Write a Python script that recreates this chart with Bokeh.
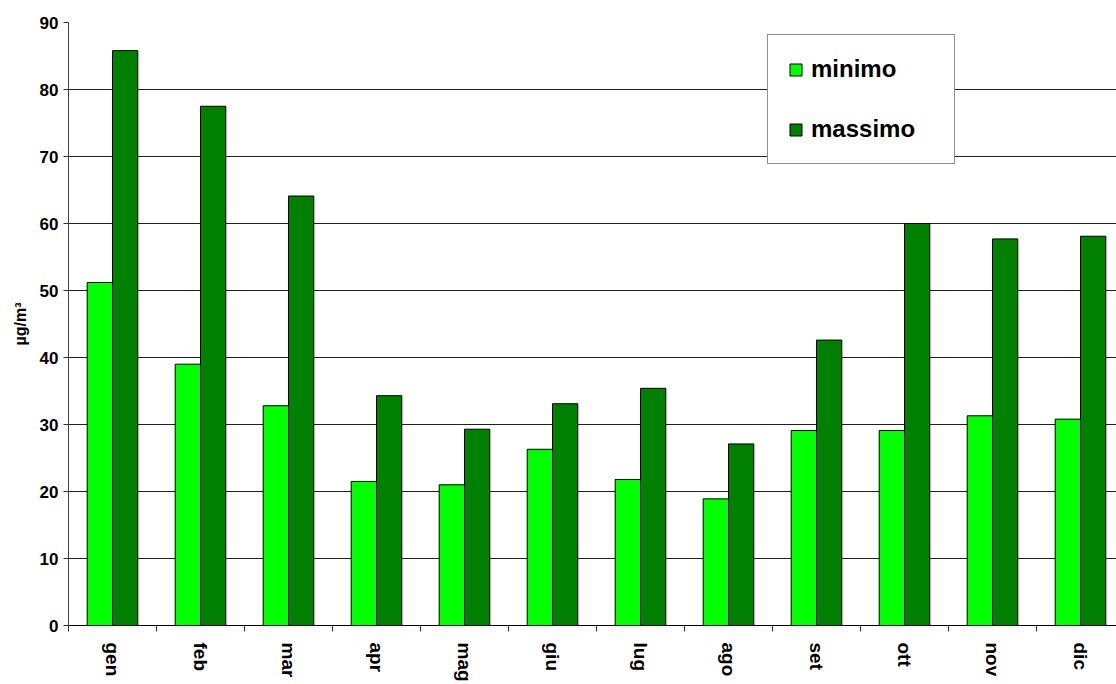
import numpy as np
from bokeh.plotting import figure
from bokeh.models import Range1d, FixedTicker
from bokeh.embed import file_html
from bokeh.resources import INLINE

months = ["gen", "feb", "mar", "apr", "mag", "giu", "lug", "ago", "set", "ott", "nov", "dic"]
minimo = [51.2, 39.0, 32.8, 21.5, 21.0, 26.3, 21.8, 18.9, 29.1, 29.1, 31.3, 30.8]
massimo = [85.8, 77.5, 64.1, 34.3, 29.3, 33.1, 35.4, 27.1, 42.6, 60.0, 57.7, 58.1]
y_ticks = [0, 10, 20, 30, 40, 50, 60, 70, 80, 90]
series_names = ["minimo", "massimo"]
series_colors = ["#00FF00", "#008000"]

FONT = "Liberation Sans"
n = len(months)
centers = list(range(1, n + 1))
bw = 0.2875

p = figure(width=1116, height=684, output_backend="svg", toolbar_location=None,
           x_range=Range1d(0.5, 0.5 + 1048 / 88), y_range=Range1d(0, 90),
           min_border_left=68, min_border_right=0, min_border_top=22, min_border_bottom=59)
p.outline_line_color = None
p.background_fill_color = "white"
p.border_fill_color = "white"

xc = np.array(centers, dtype=float)
p.vbar(x=xc - bw / 2, top=minimo, width=bw, fill_color=series_colors[0], line_color="black",
       line_width=1, legend_label=series_names[0])
p.vbar(x=xc + bw / 2, top=massimo, width=bw, fill_color=series_colors[1], line_color="black",
       line_width=1, legend_label=series_names[1])

p.xgrid.grid_line_color = None
p.ygrid.ticker = FixedTicker(ticks=y_ticks)
p.ygrid.grid_line_color = "#202020"
p.ygrid.grid_line_width = 1

xa = p.xaxis[0]
xa.ticker = FixedTicker(ticks=centers, minor_ticks=[c - 0.5 for c in centers] + [n + 0.5])
xa.major_label_overrides = {c: m for c, m in zip(centers, months)}
xa.major_tick_line_color = None
xa.minor_tick_line_color = "#303030"
xa.minor_tick_out = 6
xa.minor_tick_in = 0
xa.axis_line_color = "black"
xa.major_label_orientation = "vertical"
xa.major_label_standoff = 11
xa.major_label_text_font = FONT
xa.major_label_text_font_style = "bold"
xa.major_label_text_font_size = "19px"
xa.major_label_text_color = "black"

ya = p.yaxis[0]
ya.ticker = FixedTicker(ticks=y_ticks)
ya.minor_tick_line_color = None
ya.major_tick_out = 5
ya.major_tick_in = 0
ya.major_tick_line_color = "#303030"
ya.axis_line_color = "#404040"
ya.major_label_standoff = 5
ya.major_label_text_font = FONT
ya.major_label_text_font_style = "bold"
ya.major_label_text_font_size = "17px"
ya.major_label_text_color = "black"
ya.axis_label = "µg/m³"
ya.axis_label_text_font = FONT
ya.axis_label_text_font_style = "bold"
ya.axis_label_text_font_size = "16px"
ya.axis_label_standoff = 8
ya.axis_label_text_color = "black"

lg = p.legend[0]
lg.location = (699, 461)
lg.border_line_color = "#202020"
lg.border_line_width = 1
lg.background_fill_color = "white"
lg.background_fill_alpha = 1
lg.padding = 20
lg.spacing = 32
lg.margin = 0
lg.glyph_width = 15
lg.glyph_height = 15
lg.label_height = 15
lg.label_width = 123
lg.label_standoff = 8
lg.label_text_font = FONT
lg.label_text_font_style = "bold"
lg.label_text_font_size = "24px"
lg.label_text_color = "black"

open("out.html", "w").write(file_html(p, INLINE))
